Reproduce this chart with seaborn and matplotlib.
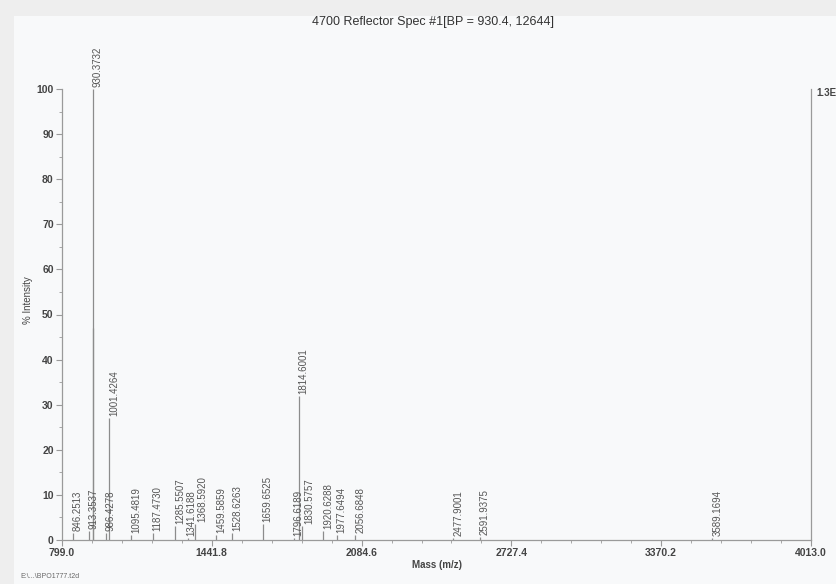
import pandas as pd
import matplotlib
matplotlib.use("Agg")
import matplotlib.pyplot as plt
import matplotlib.patches as mpatches
import seaborn as sns

mz = [846.2513, 913.3537, 930.3732, 931.3760, 986.4278, 1001.4264, 1095.4819,
      1187.4730, 1285.5507, 1341.6188, 1368.5920, 1459.5859, 1528.6263,
      1659.6525, 1796.6189, 1814.6001, 1830.5757, 1920.6288, 1977.6494,
      2056.6848, 2477.9001, 2591.9375, 3589.1694]
intensity = [1.5, 2.0, 100.0, 47.0, 1.5, 27.0, 1.0, 1.5, 3.0, 0.5, 3.5, 1.0,
             1.5, 3.5, 0.5, 32.0, 3.0, 2.0, 1.0, 1.0, 0.5, 0.6, 0.5]
labelled = [True, True, True, False, True, True, True, True, True, True, True,
            True, True, True, True, True, True, True, True, True, True, True, True]

x_ticks = [799.0, 1441.8, 2084.6, 2727.4, 3370.2, 4013.0]
y_ticks = [0, 10, 20, 30, 40, 50, 60, 70, 80, 90, 100]

df = pd.DataFrame({"mz": mz, "intensity": intensity, "label": labelled})

sns.set_theme(style="white")
plt.rcParams["font.family"] = ["Liberation Sans", "DejaVu Sans"]

axis_col = "#9a9a9a"
line_col = "#8c8c8c"
text_col = "#444444"

fig = plt.figure(figsize=(8.36, 5.84), dpi=100)
fig.patch.set_facecolor("#eeeeee")
# papier-vlak (scan), achter alles
paper = mpatches.Rectangle((14 / 836, 0), 1, 1 - 16 / 584,
                           transform=fig.transFigure, facecolor="#f8f9fa",
                           edgecolor="none", zorder=-10)
fig.add_artist(paper)

ax = fig.add_axes([62 / 836, 44 / 584, 749 / 836, 451 / 584])
ax.set_facecolor("none")
ax.set_zorder(5)

ax.vlines(df["mz"], 0, df["intensity"], color=line_col, linewidth=0.9)

ax.set_xlim(x_ticks[0], x_ticks[-1])
ax.set_ylim(0, 100)

# labels rechts van de piek, dicht op elkaar liggende labels uit elkaar duwen
lab = df[df["label"]].sort_values("mz").reset_index(drop=True)
px = [ax.transData.transform((m, 0))[0] for m in lab["mz"]]
lx = [p + 5 for p in px]
min_gap = 11
n = len(lx)
for _ in range(30):
    for i in range(n):
        for j in range(i + 1, min(i + 4, n)):
            if abs(lab["intensity"][i] - lab["intensity"][j]) > 10:
                continue
            gap = lx[j] - lx[i]
            if gap < min_gap:
                shift = (min_gap - gap) / 2
                lx[i] -= shift
                lx[j] += shift

for i, row in lab.iterrows():
    ax.annotate(f"{row['mz']:.4f}", (row["mz"], row["intensity"]),
                xytext=(lx[i] - px[i], 2), textcoords="offset pixels",
                rotation=90, ha="center", va="bottom", fontsize=7,
                color="#555555", annotation_clip=False)

ax.set_xticks(x_ticks)
ax.set_xticklabels([f"{t:.1f}" for t in x_ticks])
ax.set_yticks(y_ticks)
ax.set_yticks(range(5, 100, 10), minor=True)
ax.set_xticks([x_ticks[0] + i * 642.8 / 5 for i in range(26)], minor=True)

sns.despine(ax=ax, top=True, right=False)
for side in ["left", "bottom", "right"]:
    ax.spines[side].set_color(axis_col)
    ax.spines[side].set_linewidth(0.9)

ax.tick_params(axis="both", which="major", direction="out", length=4,
               width=0.8, color=axis_col, labelsize=7.5, labelcolor=text_col,
               pad=2)
ax.tick_params(axis="both", which="minor", direction="out", length=2,
               width=0.6, color=axis_col)
ax.tick_params(axis="y", which="both", left=True, right=False)
ax.tick_params(axis="x", which="both", bottom=True)
for lbl in ax.get_xticklabels() + ax.get_yticklabels():
    lbl.set_fontweight("bold")

fig.text(433 / 836, 1 - 22 / 584, "4700 Reflector Spec #1[BP = 930.4, 12644]",
         ha="center", va="center", fontsize=9, color="#333333")
fig.text(28 / 836, 1 - 300 / 584, "% Intensity", rotation=90, ha="center",
         va="center", fontsize=7, color=text_col)
fig.text(437 / 836, 1 - 565 / 584, "Mass (m/z)", ha="center", va="center",
         fontsize=7, color=text_col, fontweight="bold")
fig.text(816 / 836, 1 - 93 / 584, "1.3E+4", ha="left", va="center",
         fontsize=7, color=text_col, fontweight="bold")
fig.text(20 / 836, 1 - 577 / 584, "E:\\...\\BPO1777.t2d", ha="left",
         va="center", fontsize=5, color="#666666")

fig.savefig("out.png", dpi=100, facecolor=fig.get_facecolor())
